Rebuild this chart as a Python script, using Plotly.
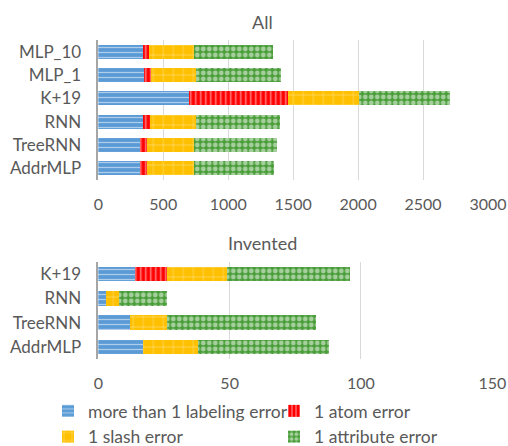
import plotly.graph_objects as go

# ---- data ----
cats_all = ["AddrMLP", "TreeRNN", "RNN", "K+19", "MLP_1", "MLP_10"]
all_labeling = [321, 321, 346, 700, 351, 341]
all_atom = [56, 56, 49, 757, 52, 51]
all_slash = [361, 357, 356, 548, 348, 342]
all_attribute = [613, 638, 646, 700, 652, 607]

cats_inv = ["AddrMLP", "TreeRNN", "RNN", "K+19"]
inv_labeling = [17, 12, 3, 14]
inv_atom = [0, 0, 0, 12]
inv_slash = [21, 14, 5, 23]
inv_attribute = [50, 57, 18, 47]

series_names = ["more than 1 labeling error", "1 atom error", "1 slash error", "1 attribute error"]
colors = ["#5B9BD5", "#FF0000", "#FFC000", "#4A9E3A"]
patterns = [
    dict(shape="-", size=5, solidity=0.25),
    dict(shape="|", size=5, solidity=0.3),
    dict(shape="+", size=10, solidity=0.12),
    dict(shape=".", size=6, solidity=0.5),
]

FONT = "Lato"
GRAY = "#595959"

fig = go.Figure()

all_vals = [all_labeling, all_atom, all_slash, all_attribute]
inv_vals = [inv_labeling, inv_atom, inv_slash, inv_attribute]

for i in range(4):
    pat = dict(fillmode="overlay", fgcolor="white", bgcolor=colors[i], **patterns[i])
    fig.add_trace(go.Bar(
        y=cats_all, x=all_vals[i], orientation="h", name=series_names[i],
        marker=dict(color=colors[i], pattern=pat, line=dict(width=0)),
        xaxis="x", yaxis="y", legendgroup=str(i), showlegend=True,
    ))
for i in range(4):
    pat = dict(fillmode="overlay", fgcolor="white", bgcolor=colors[i], **patterns[i])
    fig.add_trace(go.Bar(
        y=cats_inv, x=inv_vals[i], orientation="h", name=series_names[i],
        marker=dict(color=colors[i], pattern=pat, line=dict(width=0)),
        xaxis="x2", yaxis="y2", legendgroup=str(i), showlegend=False,
    ))

H = 446.0
W = 508.0
axis_common = dict(
    showgrid=True, gridcolor="#D9D9D9", gridwidth=1, zeroline=False,
    tickfont=dict(family=FONT, size=16, color=GRAY), automargin=False,
    showline=False, ticks="",
)
yaxis_common = dict(
    showgrid=False, zeroline=False, showline=True, linecolor="#A6A6A6", linewidth=1.5,
    ticks="", automargin=False, ticklabelstandoff=12,
    tickfont=dict(family=FONT, size=17, color=GRAY),
)
fig.update_layout(
    width=508, height=446,
    margin=dict(l=0, r=0, t=0, b=0, autoexpand=False),
    paper_bgcolor="white", plot_bgcolor="white",
    barmode="stack", bargap=0.4,
    font=dict(family=FONT, color=GRAY),
    xaxis=dict(domain=[98.3 / W, 488 / W], range=[0, 3000], dtick=500, anchor="y",
               ticklabelstandoff=13, **axis_common),
    yaxis=dict(domain=[1 - 180 / H, 1 - 40 / H], anchor="x", **yaxis_common),
    xaxis2=dict(domain=[98.3 / W, 492.3 / W], range=[0, 150], dtick=50, anchor="y2",
                ticklabelstandoff=13, **axis_common),
    yaxis2=dict(domain=[1 - 359 / H, 1 - 262 / H], anchor="x2", **yaxis_common),
    legend=dict(orientation="h", x=48 / W, y=1 - 393 / H, xanchor="left", yanchor="top",
                entrywidth=181, entrywidthmode="pixels",
                font=dict(family=FONT, size=17.5, color=GRAY), traceorder="normal",
                itemwidth=30, tracegroupgap=0),
    annotations=[
        dict(text="All", x=262 / W, y=1 - 22 / H, xref="paper", yref="paper",
             xanchor="center", yanchor="middle",
             showarrow=False, font=dict(family=FONT, size=18, color=GRAY)),
        dict(text="Invented", x=262 / W, y=1 - 243 / H, xref="paper", yref="paper",
             xanchor="center", yanchor="middle",
             showarrow=False, font=dict(family=FONT, size=18, color=GRAY)),
    ],
)

fig.write_html(
    "out.html",
    config={"displayModeBar": False},
    post_script="document.body.style.margin='0';document.body.style.overflow='hidden';",
)
